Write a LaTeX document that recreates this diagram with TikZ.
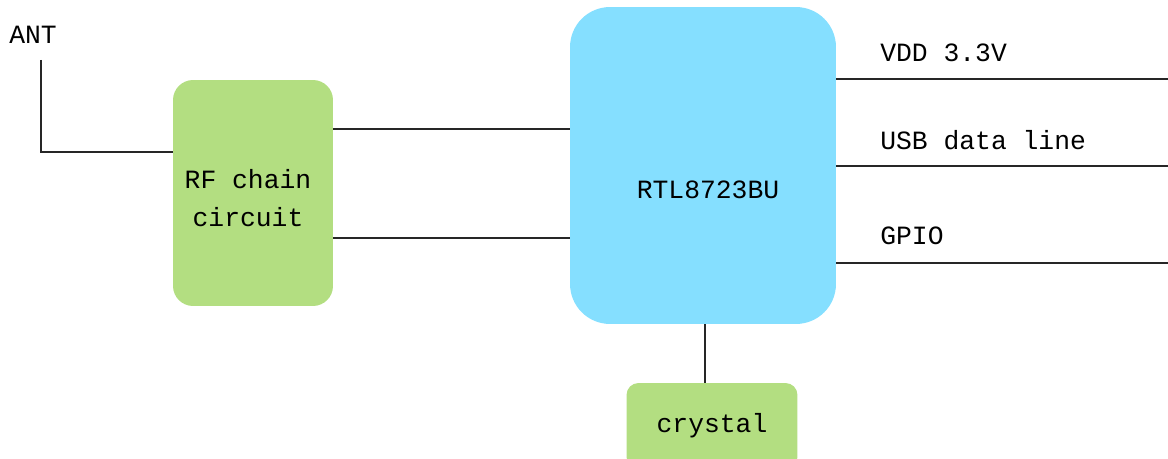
\documentclass[tikz,border=0pt]{standalone}
\usepackage{fontspec}
\usepackage{xcolor}
\usepackage{tikz}
\newfontfamily\chipfont{Liberation Mono}
\definecolor{rfgreen}{RGB}{179,222,129}
\definecolor{chipblue}{RGB}{133,223,255}
\tikzset{
  wire/.style={line width=1.1pt, draw=black!85},
  lbl/.style={font=\chipfont\fontsize{15}{18}\selectfont, inner sep=0pt},
  greenbox/.style={fill=rfgreen, draw=none, rounded corners=0.4cm, align=center, lbl},
}

\begin{document}
\begin{tikzpicture}[x=0.02cm, y=-0.02cm]
        \useasboundingbox (0,0) rectangle (1168,459);

        % Antenne
        \node[lbl] (ant) at (33,35) {ANT};
        \coordinate (antTop) at (41,60);
        \coordinate (antBend) at (41,152);

        % RF chain
        \node[greenbox, minimum width=3.2cm, minimum height=4.52cm] (rf) at (253,193) {};
        \node[lbl, align=center] (rfText) at (248,198) {RF chain\\[4pt]circuit};
        \draw[wire] (antTop) -- (antBend) -- (antBend -| rf.west);

        % Puce
        \node[fill=chipblue, rounded corners=0.8cm, minimum width=5.32cm, minimum height=6.34cm] (chip) at (703,165.5) {};
        \node[lbl] (chipText) at (708,190) {RTL8723BU};
        \draw[wire] (rf.east |- 0,129) -- (chip.west |- 0,129);
        \draw[wire] (rf.east |- 0,238) -- (chip.west |- 0,238);

        % Sorties
        \coordinate (vddEnd) at (1168,79);
        \coordinate (usbEnd) at (1168,166);
        \coordinate (gpioEnd) at (1168,263);
        \draw[wire] (chip.east |- vddEnd) -- (vddEnd);
        \draw[wire] (chip.east |- usbEnd) -- (usbEnd);
        \draw[wire] (chip.east |- gpioEnd) -- (gpioEnd);
        \node[lbl, anchor=west] (vdd) at (880,53) {VDD 3.3V};
        \node[lbl, anchor=west] (usb) at (880,140) {USB data line};
        \node[lbl, anchor=west] (gpio) at (880,236) {GPIO};

        % Quartz
        \node[greenbox, rounded corners=0.24cm, minimum width=3.42cm, minimum height=1.72cm] (xtal) at (712,426) {crystal};
        \draw[wire] (chip.south -| 705,0) -- (xtal.north -| 705,0);
    \end{tikzpicture}
\end{document}
